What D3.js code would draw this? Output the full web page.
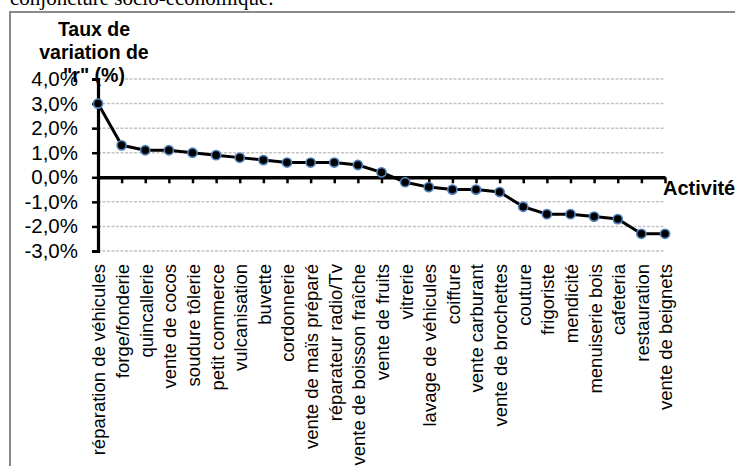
<!DOCTYPE html>
<html><head><meta charset="utf-8">
<script src="https://cdn.jsdelivr.net/npm/d3@7"></script>
<style>html,body{margin:0;padding:0;background:#fff;overflow:hidden}</style>
</head><body>
<svg id="c" width="735" height="466"></svg>
<script>
const categories = ["réparation de véhicules","forge/fonderie","quincallerie","vente de cocos","soudure tôlerie","petit commerce","vulcanisation","buvette","cordonnerie","vente de maïs préparé","réparateur radio/Tv","vente de boisson fraîche","vente de fruits","vitrerie","lavage de véhicules","coiffure","vente carburant","vente de brochettes","couture","frigoriste","mendicité","menuiserie bois","cafeteria","restauration","vente de beignets"];
const values = [3.0,1.3,1.1,1.1,1.0,0.9,0.8,0.7,0.6,0.6,0.6,0.5,0.2,-0.2,-0.4,-0.5,-0.5,-0.6,-1.2,-1.5,-1.5,-1.6,-1.7,-2.3,-2.3];
const yTicks = [4,3,2,1,0,-1,-2,-3];
const yTitleLines = ["Taux de","variation de","\"r\" (%)"];
const xTitle = "Activité";
const caption = "conjoncture socio-économique.";

const svg = d3.select("#c");
const x = d3.scalePoint().domain(categories).range([98, 665]).padding(0);
const y = d3.scaleLinear().domain([-3, 4]).range([251, 79]);
const fmt = v => v.toFixed(1).replace(".", ",") + "%";

// caption (clipped at top)
svg.append("text").attr("x", 10).attr("y", 5)
  .attr("font-family", "Liberation Serif, Times New Roman, serif").attr("font-size", 21)
  .attr("fill", "#000").text(caption);

// frame
svg.append("rect").attr("x", 10).attr("y", 12).attr("width", 800).attr("height", 500)
  .attr("fill", "#fff").attr("stroke", "#8a8a8a").attr("stroke-width", 2);

// gridlines
svg.append("g").selectAll("line").data(yTicks.filter(d => d !== 0)).join("line")
  .attr("x1", 98).attr("x2", 665).attr("y1", d => y(d)).attr("y2", d => y(d))
  .attr("stroke", "#c4c4c4").attr("stroke-width", 1.5).attr("stroke-dasharray", "3,1.5");

// y axis
const yAxis = svg.append("g").attr("transform", "translate(98,0)")
  .call(d3.axisLeft(y).tickValues(yTicks).tickFormat(fmt).tickSize(6).tickPadding(14));
yAxis.select(".domain").attr("stroke", "#000").attr("stroke-width", 3.2);
yAxis.selectAll(".tick line").attr("stroke", "#000").attr("stroke-width", 2.5);
yAxis.selectAll(".tick text").attr("font-family", "Liberation Sans, Arial, sans-serif")
  .attr("font-size", 20.5).attr("fill", "#000");

// x axis at 0
const xAxis = svg.append("g").attr("transform", `translate(0,${y(0)})`)
  .call(d3.axisBottom(x).tickSize(6).tickSizeOuter(0).tickFormat(""));
xAxis.select(".domain").attr("stroke", "#000").attr("stroke-width", 3.5);
xAxis.selectAll(".tick line").attr("stroke", "#000").attr("stroke-width", 2.5);

// x labels (bottom, rotated)
svg.append("g").selectAll("text").data(categories).join("text")
  .attr("transform", d => `translate(${x(d) + 1},264) rotate(-90)`)
  .attr("text-anchor", "end").attr("dy", "0.35em")
  .attr("font-family", "Liberation Sans, Arial, sans-serif").attr("font-size", 18.5)
  .attr("fill", "#000").text(d => d);

// line
svg.append("path").datum(values)
  .attr("d", d3.line().x((d, i) => x(categories[i])).y(d => y(d)))
  .attr("fill", "none").attr("stroke", "#000").attr("stroke-width", 3).attr("stroke-linejoin", "round");

// markers
svg.append("g").selectAll("circle").data(values).join("circle")
  .attr("cx", (d, i) => x(categories[i])).attr("cy", d => y(d)).attr("r", 4.6)
  .attr("fill", "#000").attr("stroke", "#4f81bd").attr("stroke-width", 1.6);

// y title
svg.append("g").selectAll("text").data(yTitleLines).join("text")
  .attr("x", 94).attr("y", (d, i) => 36 + i * 23)
  .attr("text-anchor", "middle").attr("font-family", "Liberation Sans, Arial, sans-serif")
  .attr("font-weight", "bold").attr("font-size", 19.5).attr("fill", "#000").text(d => d);

// x title
svg.append("text").attr("x", 663).attr("y", 195)
  .attr("font-family", "Liberation Sans, Arial, sans-serif").attr("font-weight", "bold")
  .attr("font-size", 20).attr("fill", "#000").text(xTitle);
</script>
</body></html>
